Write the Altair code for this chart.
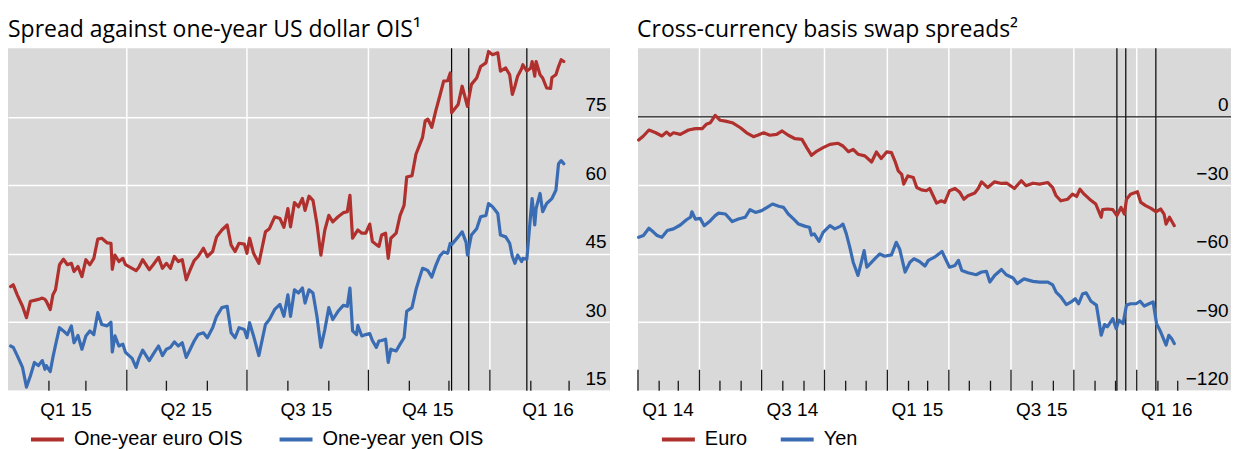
import altair as alt
import pandas as pd

# ---------------- Left panel: spread against one-year US dollar OIS ----------------
ois_dates = [
    "2015-01-03", "2015-01-05", "2015-01-08", "2015-01-12", "2015-01-15", "2015-01-18", "2015-01-21",
    "2015-01-24", "2015-01-27", "2015-01-29", "2015-01-30", "2015-02-02", "2015-02-04", "2015-02-06",
    "2015-02-09", "2015-02-12", "2015-02-15", "2015-02-18", "2015-02-20", "2015-02-23", "2015-02-26",
    "2015-03-01", "2015-03-04", "2015-03-07", "2015-03-10", "2015-03-13", "2015-03-17", "2015-03-20",
    "2015-03-21", "2015-03-23", "2015-03-26", "2015-03-29", "2015-03-31", "2015-04-05", "2015-04-08",
    "2015-04-10", "2015-04-13", "2015-04-18", "2015-04-21", "2015-04-25", "2015-04-28", "2015-05-01",
    "2015-05-04", "2015-05-07", "2015-05-10", "2015-05-13", "2015-05-16", "2015-05-19", "2015-05-22",
    "2015-05-25", "2015-05-29", "2015-06-01", "2015-06-05", "2015-06-08", "2015-06-12", "2015-06-16",
    "2015-06-19", "2015-06-22", "2015-06-25", "2015-06-29", "2015-07-01", "2015-07-03", "2015-07-06",
    "2015-07-10", "2015-07-15", "2015-07-18", "2015-07-22", "2015-07-26", "2015-07-29", "2015-08-01",
    "2015-08-03", "2015-08-06", "2015-08-09", "2015-08-12", "2015-08-14", "2015-08-17", "2015-08-20",
    "2015-08-23", "2015-08-26", "2015-08-29", "2015-09-01", "2015-09-04", "2015-09-08", "2015-09-12",
    "2015-09-15", "2015-09-17", "2015-09-19", "2015-09-22", "2015-09-23", "2015-09-26", "2015-09-29",
    "2015-10-02", "2015-10-04", "2015-10-07", "2015-10-09", "2015-10-11", "2015-10-14", "2015-10-16",
    "2015-10-18", "2015-10-22", "2015-10-25", "2015-10-28", "2015-10-30", "2015-11-03", "2015-11-06",
    "2015-11-09", "2015-11-11", "2015-11-13", "2015-11-15", "2015-11-18", "2015-11-21", "2015-11-24",
    "2015-11-27", "2015-11-30", "2015-12-02", "2015-12-03", "2015-12-08", "2015-12-11", "2015-12-14",
    "2015-12-15", "2015-12-18", "2015-12-22", "2015-12-25", "2015-12-29", "2015-12-31", "2016-01-03",
    "2016-01-07", "2016-01-09", "2016-01-13", "2016-01-16", "2016-01-18", "2016-01-20", "2016-01-22",
    "2016-01-25", "2016-01-26", "2016-01-29", "2016-02-01", "2016-02-02", "2016-02-04", "2016-02-05",
    "2016-02-08", "2016-02-10", "2016-02-13", "2016-02-16", "2016-02-17", "2016-02-20", "2016-02-22",
    "2016-02-24", "2016-02-26",
]
euro_ois = [
    37.8, 38.2, 36.0, 33.5, 31.0, 34.6, 34.8, 35.0, 35.3, 35.0, 34.6, 32.8, 36.0, 37.1,
    42.6, 43.8, 42.6, 42.9, 41.1, 42.2, 40.0, 43.7, 42.6, 44.0, 48.2, 48.4, 47.4, 47.3,
    41.6, 44.7, 43.3, 44.0, 42.6, 41.8, 41.3, 42.0, 43.7, 41.5, 42.6, 44.2, 41.8, 42.9,
    41.8, 44.4, 43.3, 43.7, 39.3, 41.5, 43.5, 44.4, 46.2, 44.4, 45.5, 48.7, 50.2, 51.3,
    46.9, 45.5, 47.3, 47.1, 45.1, 48.4, 45.1, 42.9, 49.8, 50.5, 53.1, 52.7, 50.8, 54.9,
    50.9, 56.2, 55.3, 57.1, 54.5, 57.6, 56.7, 51.6, 44.7, 50.2, 53.4, 52.0, 53.1, 54.0,
    54.2, 57.8, 48.4, 49.8, 50.2, 49.5, 49.5, 51.5, 47.7, 47.0, 46.6, 49.1, 49.5, 44.0,
    48.4, 49.5, 53.4, 55.6, 61.8, 62.1, 66.8, 69.0, 70.5, 74.1, 74.5, 72.7, 76.3, 79.5,
    82.8, 82.9, 84.6, 75.9, 77.7, 81.7, 78.4, 77.3, 82.1, 83.5, 86.0, 86.8, 89.3, 88.6,
    89.0, 85.0, 85.7, 84.2, 79.9, 81.7, 83.9, 85.5, 86.4, 85.0, 85.7, 87.1, 83.9, 87.1,
    84.2, 83.5, 81.3, 81.2, 83.6, 84.2, 86.0, 87.5, 87.1,
]
yen_ois = [
    24.8, 24.5, 22.7, 20.1, 15.8, 18.3, 21.2, 20.5, 21.6, 19.7, 20.5, 19.2, 22.3, 25.0,
    28.8, 28.1, 27.3, 29.2, 25.5, 27.1, 24.1, 27.0, 28.1, 27.3, 32.1, 29.5, 29.2, 30.0,
    23.5, 27.0, 24.8, 25.2, 23.4, 22.1, 20.1, 21.9, 23.9, 21.6, 23.0, 24.8, 22.7, 24.1,
    24.5, 25.7, 24.8, 25.5, 22.3, 24.1, 25.9, 27.3, 27.7, 26.6, 28.8, 31.3, 33.2, 33.5,
    27.7, 26.6, 28.8, 28.4, 26.6, 29.9, 27.0, 22.7, 29.5, 30.6, 32.8, 33.9, 31.3, 36.0,
    31.3, 37.1, 36.4, 37.5, 34.2, 37.1, 36.4, 31.3, 24.5, 28.4, 33.2, 30.6, 32.4, 33.7,
    33.5, 37.5, 28.1, 27.3, 29.3, 27.0, 27.3, 27.5, 26.0, 24.5, 25.9, 26.0, 26.3, 21.2,
    24.1, 23.7, 25.2, 26.6, 32.4, 33.2, 37.1, 40.0, 41.8, 41.6, 41.3, 39.9, 42.4, 44.5,
    45.4, 45.1, 47.3, 47.0, 48.7, 49.8, 47.5, 44.7, 49.1, 50.5, 53.1, 53.4, 56.0, 55.3,
    53.8, 49.1, 48.7, 47.3, 44.4, 42.9, 44.7, 43.3, 44.0, 43.8, 54.0, 57.1, 51.3, 54.9,
    58.2, 54.2, 56.0, 56.8, 57.1, 58.9, 64.7, 65.4, 64.7,
]
left_series = ["One-year euro OIS", "One-year yen OIS"]
left_y_ticks = [15, 30, 45, 60, 75]
left_quarter_starts = ["2015-04-01", "2015-07-01", "2015-10-01", "2016-01-01"]
left_month_ticks = ["2015-02-01", "2015-03-01", "2015-05-01", "2015-06-01", "2015-08-01",
                    "2015-09-01", "2015-11-01", "2015-12-01", "2016-02-01", "2016-03-01"]
left_label_dates = ["2015-02-14", "2015-05-16", "2015-08-15", "2015-11-15", "2016-02-14"]
left_labels = ["Q1 15", "Q2 15", "Q3 15", "Q4 15", "Q1 16"]

# ---------------- Right panel: cross-currency basis swap spreads ----------------
basis_euro_dates = [
    "2014-01-02", "2014-01-09", "2014-01-17", "2014-01-27", "2014-02-05", "2014-02-12", "2014-02-17",
    "2014-02-22", "2014-03-04", "2014-03-16", "2014-03-26", "2014-04-05", "2014-04-11", "2014-04-17",
    "2014-04-24", "2014-05-01", "2014-05-09", "2014-05-19", "2014-05-31", "2014-06-09", "2014-06-19",
    "2014-06-26", "2014-07-04", "2014-07-13", "2014-07-23", "2014-07-31", "2014-08-09", "2014-08-19",
    "2014-08-29", "2014-09-05", "2014-09-12", "2014-09-20", "2014-09-29", "2014-10-09", "2014-10-21",
    "2014-10-28", "2014-11-05", "2014-11-12", "2014-11-19", "2014-11-29", "2014-12-09", "2014-12-16",
    "2014-12-23", "2014-12-31", "2015-01-07", "2015-01-12", "2015-01-17", "2015-01-22", "2015-01-25",
    "2015-01-31", "2015-02-08", "2015-02-13", "2015-02-20", "2015-02-27", "2015-03-04", "2015-03-09",
    "2015-03-14", "2015-03-21", "2015-03-26", "2015-04-02", "2015-04-10", "2015-04-17", "2015-04-23",
    "2015-04-29", "2015-05-09", "2015-05-14", "2015-05-19", "2015-05-28", "2015-06-07", "2015-06-17",
    "2015-06-25", "2015-07-06", "2015-07-16", "2015-07-23", "2015-08-02", "2015-08-12", "2015-08-24",
    "2015-08-31", "2015-09-05", "2015-09-12", "2015-09-22", "2015-09-29", "2015-10-05", "2015-10-10",
    "2015-10-16", "2015-10-24", "2015-11-02", "2015-11-10", "2015-11-12", "2015-11-19", "2015-11-27",
    "2015-12-03", "2015-12-09", "2015-12-14", "2015-12-17", "2015-12-23", "2016-01-02", "2016-01-07",
    "2016-01-14", "2016-01-22", "2016-01-29", "2016-02-05", "2016-02-10", "2016-02-13", "2016-02-18",
    "2016-02-25",
]
basis_euro = [
    -10.2, -8.4, -5.8, -7.0, -8.4, -6.7, -8.1, -7.0, -7.7, -5.8, -5.2, -5.2, -3.3, -2.6,
    0.6, -1.5, -1.9, -2.6, -4.8, -7.0, -8.7, -8.0, -7.0, -8.1, -7.7, -6.2, -8.1, -9.6,
    -9.9, -13.5, -16.9, -15.0, -13.5, -12.1, -11.6, -12.8, -15.3, -14.3, -16.4, -17.1, -19.8, -15.4,
    -18.3, -15.4, -15.7, -19.3, -23.7, -25.2, -29.5, -25.9, -26.6, -31.0, -32.0, -32.4, -31.4, -34.6,
    -37.8, -36.8, -37.5, -32.4, -31.4, -33.1, -36.1, -34.6, -33.4, -31.4, -28.5, -31.0, -28.5, -29.2,
    -29.1, -31.4, -28.0, -30.2, -29.1, -29.5, -28.8, -31.0, -34.6, -36.8, -36.1, -33.9, -34.9, -31.7,
    -33.9, -36.1, -38.2, -44.0, -40.7, -40.4, -40.7, -43.3, -39.7, -42.6, -36.1, -33.9, -32.8, -37.5,
    -38.9, -40.1, -41.6, -40.4, -42.6, -47.0, -44.0, -47.7,
]
basis_yen_dates = [
    "2014-01-02", "2014-01-09", "2014-01-17", "2014-01-24", "2014-01-29", "2014-02-05", "2014-02-13",
    "2014-02-22", "2014-03-04", "2014-03-13", "2014-03-19", "2014-03-21", "2014-03-26", "2014-04-02",
    "2014-04-08", "2014-04-17", "2014-04-24", "2014-04-29", "2014-05-09", "2014-05-19", "2014-05-28",
    "2014-06-07", "2014-06-14", "2014-06-22", "2014-07-01", "2014-07-09", "2014-07-17", "2014-07-26",
    "2014-08-02", "2014-08-09", "2014-08-17", "2014-08-24", "2014-09-03", "2014-09-09", "2014-09-12",
    "2014-09-16", "2014-09-23", "2014-09-29", "2014-10-09", "2014-10-16", "2014-10-24", "2014-10-28",
    "2014-11-02", "2014-11-07", "2014-11-12", "2014-11-19", "2014-11-24", "2014-11-28", "2014-12-02",
    "2014-12-09", "2014-12-16", "2014-12-21", "2014-12-28", "2015-01-07", "2015-01-14", "2015-01-19",
    "2015-01-27", "2015-02-03", "2015-02-09", "2015-02-17", "2015-02-25", "2015-03-02", "2015-03-11",
    "2015-03-22", "2015-03-27", "2015-04-02", "2015-04-10", "2015-04-15", "2015-04-20", "2015-04-29",
    "2015-05-11", "2015-05-19", "2015-05-26", "2015-05-31", "2015-06-07", "2015-06-17", "2015-06-24",
    "2015-07-04", "2015-07-10", "2015-07-20", "2015-08-02", "2015-08-12", "2015-08-24", "2015-08-31",
    "2015-09-05", "2015-09-12", "2015-09-20", "2015-09-27", "2015-10-03", "2015-10-08", "2015-10-14",
    "2015-10-19", "2015-10-26", "2015-11-03", "2015-11-07", "2015-11-10", "2015-11-15", "2015-11-19",
    "2015-11-27", "2015-12-02", "2015-12-06", "2015-12-12", "2015-12-17", "2015-12-23", "2015-12-31",
    "2016-01-06", "2016-01-12", "2016-01-19", "2016-01-25", "2016-01-30", "2016-02-05", "2016-02-13",
    "2016-02-17", "2016-02-21", "2016-02-25",
]
basis_yen = [
    -52.8, -52.0, -48.8, -50.6, -52.0, -52.8, -49.8, -49.1, -47.4, -45.1, -44.0, -41.6, -44.8, -44.5,
    -47.7, -45.5, -43.3, -42.2, -42.6, -45.9, -44.8, -44.0, -40.7, -41.9, -41.1, -39.7, -38.2, -39.2,
    -39.7, -42.6, -44.8, -47.0, -48.0, -48.4, -51.8, -51.3, -54.6, -50.6, -47.7, -49.1, -48.0, -47.0,
    -51.3, -57.1, -63.7, -69.5, -63.7, -58.6, -65.9, -63.7, -61.5, -60.1, -61.1, -60.5, -55.0, -57.9,
    -68.0, -63.7, -62.2, -63.4, -65.4, -62.9, -61.5, -59.0, -62.2, -65.9, -65.1, -62.9, -67.3, -68.3,
    -69.2, -68.0, -67.7, -72.4, -69.5, -66.9, -69.2, -70.6, -73.1, -71.0, -72.1, -72.4, -72.4, -73.6,
    -76.8, -78.9, -82.3, -81.1, -79.7, -81.9, -77.5, -77.1, -80.8, -82.5, -89.8, -95.7, -91.0, -92.0,
    -88.4, -92.8, -89.1, -90.6, -82.5, -81.9, -81.9, -80.8, -82.9, -81.9, -81.1, -90.6, -94.2, -100.0,
    -95.7, -97.1, -99.3,
]
right_series = ["Euro", "Yen"]
right_y_ticks = [-120, -90, -60, -30, 0]
right_quarter_starts = ["2014-04-01", "2014-07-01", "2014-10-01", "2015-01-01", "2015-04-01",
                        "2015-07-01", "2015-10-01", "2016-01-01"]
right_long_ticks = ["2014-01-01"] + right_quarter_starts
right_month_ticks = ["2014-02-01", "2014-03-01", "2014-05-01", "2014-06-01", "2014-08-01", "2014-09-01",
                     "2014-11-01", "2014-12-01", "2015-02-01", "2015-03-01", "2015-05-01", "2015-06-01",
                     "2015-08-01", "2015-09-01", "2015-11-01", "2015-12-01", "2016-02-01", "2016-03-01"]
right_label_dates = ["2014-02-14", "2014-08-15", "2015-02-14", "2015-08-15", "2016-02-14"]
right_labels = ["Q1 14", "Q3 14", "Q1 15", "Q3 15", "Q1 16"]

# Event lines (ECB 3 Dec 2015, Fed 16 Dec 2015, BoJ 29 Jan 2016)
event_dates = ["2015-12-03", "2015-12-16", "2016-01-29"]

# ---------------- Styling ----------------
RED = "#B0302D"
BLUE = "#3A6CB4"
BG = "#D9D9D9"
TICK_FONT = "Liberation Sans"
TITLE_FONT = "Open Sans"
W1, W2, H = 603, 594, 343


def dt(y, m, d):
    return alt.DateTime(year=y, month=m, date=d, utc=True)


def panel(df, series, colors, x_domain, y_domain, y_ticks, quarter_starts, long_ticks, month_ticks,
          label_dates, labels, width, title, label_pad, legend_x, col_pad, zero_line):
    xs = alt.Scale(domain=x_domain)
    xenc = alt.X("date:T", scale=xs, axis=None)

    vgrid = alt.Chart(pd.DataFrame({"date": quarter_starts})).mark_rule(
        color="white", strokeWidth=1.5).encode(x=xenc, y=alt.value(0), y2=alt.value(H))

    lines = alt.Chart(df).mark_line(strokeWidth=3.2, strokeJoin="round", strokeCap="round").encode(
        x=xenc,
        y=alt.Y("value:Q", scale=alt.Scale(domain=y_domain, nice=False, zero=False),
                axis=alt.Axis(orient="right", values=y_ticks, title=None, ticks=False, domain=False,
                              grid=True, gridColor="white", gridWidth=1.5, gridOpacity=1,
                              labelPadding=label_pad, labelAlign="right", labelBaseline="alphabetic",
                              labelOffset=-6, labelFontSize=19, labelFont=TICK_FONT, labelColor="black",
                              format="d")),
        color=alt.Color("series:N", scale=alt.Scale(domain=series, range=colors),
                        legend=alt.Legend(orient="none", legendX=legend_x, legendY=373,
                                          direction="horizontal", title=None, symbolType="stroke",
                                          symbolStrokeWidth=4, symbolSize=1089, labelFontSize=20,
                                          labelFont=TICK_FONT, labelColor="black", labelLimit=400,
                                          columnPadding=col_pad, labelOffset=8, padding=0)),
        order=alt.Order("order:Q"),
    )

    events = alt.Chart(pd.DataFrame({"date": event_dates})).mark_rule(
        color="black", strokeWidth=1.2).encode(x=xenc, y=alt.value(0), y2=alt.value(H))

    long_t = alt.Chart(pd.DataFrame({"date": long_ticks})).mark_rule(
        color="#1a1a1a", strokeWidth=1.3).encode(x=xenc, y=alt.value(H), y2=alt.value(H - 21))
    short_t = alt.Chart(pd.DataFrame({"date": month_ticks})).mark_rule(
        color="#1a1a1a", strokeWidth=1.3).encode(x=xenc, y=alt.value(H), y2=alt.value(H - 10))

    qlabels = alt.Chart(pd.DataFrame({"date": label_dates, "label": labels})).mark_text(
        font=TICK_FONT, fontSize=19, color="black", align="center", baseline="alphabetic").encode(
        x=xenc, y=alt.value(H + 25), text="label:N")

    layers = [vgrid, events]
    if zero_line:
        zl = alt.Chart(pd.DataFrame({"v": [0]})).mark_rule(color="#1a1a1a", strokeWidth=1.3).encode(
            y=alt.Y("v:Q"))
        layers.append(zl)
    layers += [lines, long_t, short_t, qlabels]

    return alt.layer(*layers).properties(
        width=width, height=H,
        title=alt.TitleParams(title, anchor="start", font=TITLE_FONT, fontSize=23, fontWeight="normal",
                              color="black", baseline="alphabetic", offset=-12),
    )


n_l = len(ois_dates)
left_df = pd.DataFrame({
    "date": ois_dates + ois_dates,
    "value": euro_ois + yen_ois,
    "series": [left_series[0]] * n_l + [left_series[1]] * n_l,
    "order": [0] * n_l + [1] * n_l,
})
right_df = pd.DataFrame({
    "date": basis_euro_dates + basis_yen_dates,
    "value": basis_euro + basis_yen,
    "series": [right_series[0]] * len(basis_euro_dates) + [right_series[1]] * len(basis_yen_dates),
    "order": [0] * len(basis_euro_dates) + [1] * len(basis_yen_dates),
})

left = panel(left_df, left_series, [RED, BLUE], [dt(2015, 1, 1), dt(2016, 4, 1)], [15, 90], left_y_ticks,
             left_quarter_starts, left_quarter_starts, left_month_ticks, left_label_dates, left_labels,
             W1, "Spread against one-year US dollar OIS\u00b9", -4, 21, 29, False)
right = panel(right_df, right_series, [RED, BLUE], [dt(2014, 1, 1), dt(2016, 5, 18)], [-120, 30],
              right_y_ticks, right_quarter_starts, right_long_ticks, right_month_ticks, right_label_dates,
              right_labels, W2, "Cross-currency basis swap spreads\u00b2", -3, 22, 25, True)

chart = alt.hconcat(left, right, spacing=27).resolve_scale(color="independent").configure_view(
    fill=BG, stroke=None).properties(padding={"left": 0, "right": 0, "top": 10, "bottom": 0})

chart.save("out.html", embed_options={"renderer": "svg", "actions": False})
